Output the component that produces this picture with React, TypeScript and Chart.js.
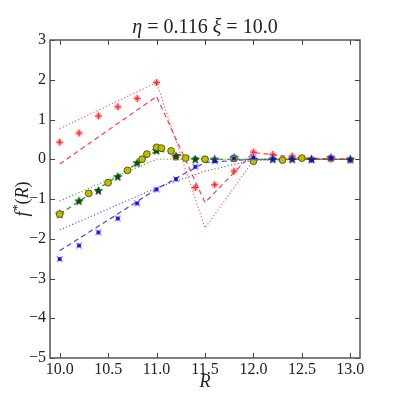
import React, { useEffect, useRef } from "react";
import { Chart, registerables } from "chart.js";

Chart.register(...registerables);

// Model curves (sampled every 0.5 in R)
const lineR = [10.0, 10.5, 11.0, 11.5, 12.0, 12.5, 13.0];
const redDashed = [-0.12, 0.73, 1.58, -1.09, 0.17, 0.03, 0.0];
const redDotted = [0.77, 1.35, 1.93, -1.73, -0.03, 0.0, 0.0];
const greenDashed = [-1.38, -0.58, 0.22, 0.0, 0.0, 0.0, 0.0];
const greenDotted = [-1.05, -0.52, 0.0, 0.0, 0.0, 0.0, 0.0];
const blueDashed = [-2.3, -1.53, -0.75, -0.08, 0.0, 0.0, 0.0];
const blueDotted = [-1.78, -1.25, -0.72, -0.3, -0.02, 0.0, 0.0];

// Sampled points
const pointR = [10.0, 10.2, 10.4, 10.6, 10.8, 11.0, 11.2, 11.4, 11.6, 11.8, 12.0, 12.2, 12.4, 12.6, 12.8, 13.0];
const redPts = [0.43, 0.66, 1.09, 1.32, 1.53, 1.93, 0.05, -0.71, -0.64, -0.3, 0.18, 0.12, 0.08, 0.0, 0.0, -0.02];
const greenPts = [-1.38, -1.05, -0.79, -0.44, -0.09, 0.22, 0.08, 0.0, 0.0, 0.04, 0.0, 0.0, 0.0, 0.0, 0.04, 0.0];
const bluePts = [-2.51, -2.17, -1.84, -1.49, -1.11, -0.76, -0.5, -0.19, -0.05, 0.02, 0.04, 0.0, 0.0, -0.02, 0.03, -0.02];
const yellowR = [10.0, 10.3, 10.5, 10.7, 10.85, 10.9, 11.0, 11.05, 11.15, 11.3, 11.5, 11.8, 12.0, 12.3, 12.5];
const yellowPts = [-1.38, -0.86, -0.59, -0.28, 0.0, 0.13, 0.3, 0.28, 0.21, 0.03, 0.0, 0.02, -0.05, -0.02, 0.03];

// Axes
const xTicks = [10.0, 10.5, 11.0, 11.5, 12.0, 12.5, 13.0];
const yTicks = [-5, -4, -3, -2, -1, 0, 1, 2, 3];
const xRange = [9.9, 13.1];
const yRange = [-5, 3];

const SERIF = "Liberation Serif";

function zip(xs: number[], ys: number[]) {
  return xs.map((x, i) => ({ x, y: ys[i] }));
}

function makeStar(): HTMLCanvasElement {
  const c = document.createElement("canvas");
  c.width = 11;
  c.height = 11;
  const g = c.getContext("2d")!;
  const cx = 5.5, cy = 5.8, ro = 4.4, ri = 1.9;
  g.beginPath();
  for (let i = 0; i < 10; i++) {
    const r = i % 2 === 0 ? ro : ri;
    const a = -Math.PI / 2 + (i * Math.PI) / 5;
    const px = cx + r * Math.cos(a);
    const py = cy + r * Math.sin(a);
    if (i === 0) g.moveTo(px, py);
    else g.lineTo(px, py);
  }
  g.closePath();
  g.fillStyle = "rgb(0,85,0)";
  g.fill();
  g.strokeStyle = "rgba(0,40,0,0.9)";
  g.lineWidth = 0.6;
  g.stroke();
  return c;
}

function makeRed(): HTMLCanvasElement {
  const c = document.createElement("canvas");
  c.width = 9;
  c.height = 9;
  const g = c.getContext("2d")!;
  g.strokeStyle = "rgba(255,30,30,0.95)";
  g.lineWidth = 1.6;
  g.beginPath();
  g.moveTo(4.5, 1);
  g.lineTo(4.5, 8);
  g.moveTo(1, 4.5);
  g.lineTo(8, 4.5);
  g.stroke();
  g.lineWidth = 1;
  g.strokeStyle = "rgba(255,60,60,0.8)";
  g.beginPath();
  g.moveTo(2.3, 2.3);
  g.lineTo(6.7, 6.7);
  g.moveTo(6.7, 2.3);
  g.lineTo(2.3, 6.7);
  g.stroke();
  return c;
}

function makeBlue(): HTMLCanvasElement {
  const c = document.createElement("canvas");
  c.width = 8;
  c.height = 8;
  const g = c.getContext("2d")!;
  g.strokeStyle = "rgba(90,90,255,0.7)";
  g.lineWidth = 1.1;
  g.beginPath();
  g.moveTo(1, 1);
  g.lineTo(7, 7);
  g.moveTo(7, 1);
  g.lineTo(1, 7);
  g.stroke();
  g.fillStyle = "rgb(10,10,220)";
  g.fillRect(2.2, 2.2, 3.6, 3.6);
  return c;
}

const framePlugin = {
  id: "frame",
  afterDraw(chart: any) {
    const ctx = chart.ctx as CanvasRenderingContext2D;
    const a = chart.chartArea;
    const xs = chart.scales.x;
    const ys = chart.scales.y;
    ctx.save();
    ctx.strokeStyle = "#444";
    ctx.lineWidth = 1;
    ctx.beginPath();
    const tl = 5;
    xTicks.forEach((v) => {
      const px = Math.round(xs.getPixelForValue(v)) + 0.5;
      ctx.moveTo(px, a.bottom);
      ctx.lineTo(px, a.bottom - tl);
      ctx.moveTo(px, a.top);
      ctx.lineTo(px, a.top + tl);
    });
    yTicks.forEach((v) => {
      const py = Math.round(ys.getPixelForValue(v)) + 0.5;
      ctx.moveTo(a.left, py);
      ctx.lineTo(a.left + tl, py);
      ctx.moveTo(a.right, py);
      ctx.lineTo(a.right - tl, py);
    });
    ctx.stroke();
    ctx.strokeStyle = "#555";
    ctx.lineWidth = 1.5;
    ctx.strokeRect(a.left, a.top, a.right - a.left, a.bottom - a.top);

    ctx.fillStyle = "#222";
    ctx.textBaseline = "alphabetic";
    const parts: [string, boolean][] = [
      ["η", true],
      [" = 0.116 ", false],
      ["ξ", true],
      [" = 10.0", false],
    ];
    const tsize = 20;
    let total = 0;
    parts.forEach(([t, it]) => {
      ctx.font = `${it ? "italic " : ""}${tsize}px ${SERIF}`;
      total += ctx.measureText(t).width;
    });
    let tx = (a.left + a.right) / 2 - total / 2;
    ctx.textAlign = "left";
    parts.forEach(([t, it]) => {
      ctx.font = `${it ? "italic " : ""}${tsize}px ${SERIF}`;
      ctx.fillText(t, tx, 33);
      tx += ctx.measureText(t).width;
    });

    ctx.font = `italic 18px ${SERIF}`;
    ctx.textAlign = "center";
    ctx.fillText("R", (a.left + a.right) / 2, 387);

    ctx.translate(28, (a.top + a.bottom) / 2);
    ctx.rotate(-Math.PI / 2);
    const yparts: [string, string, number][] = [
      ["f", "italic 18px", 0],
      ["*", "12px", -7],
      ["(", "18px", 0],
      ["R", "italic 18px", 0],
      [")", "18px", 0],
    ];
    let w = 0;
    yparts.forEach(([t, f]) => {
      ctx.font = `${f} ${SERIF}`;
      w += ctx.measureText(t).width + (t === "f" ? 1 : 0);
    });
    let yx = -w / 2;
    ctx.textAlign = "left";
    yparts.forEach(([t, f, dy]) => {
      ctx.font = `${f} ${SERIF}`;
      ctx.fillText(t, yx, dy);
      yx += ctx.measureText(t).width + (t === "f" ? 1 : 0);
    });
    ctx.restore();
  },
};

export default function App() {
  const ref = useRef<HTMLCanvasElement | null>(null);
  useEffect(() => {
    if (!ref.current) return;
    const star = makeStar();
    const blue = makeBlue();
    const red = makeRed();
    const lineDs = (data: number[], color: string, dash: number[], order: number) => ({
      data: zip(lineR, data),
      showLine: true,
      borderColor: color,
      borderWidth: 1.2,
      borderDash: dash,
      pointRadius: 0,
      fill: false,
      tension: 0,
      order,
    });
    const chart = new Chart(ref.current, {
      type: "scatter",
      data: {
        datasets: [
          lineDs(redDotted, "rgba(255,40,40,0.75)", [1.2, 2.2], 10),
          lineDs(redDashed, "rgba(255,30,30,0.85)", [5, 3.5], 11),
          lineDs(greenDotted, "rgba(0,160,0,0.75)", [1.2, 2.2], 12),
          lineDs(greenDashed, "rgba(0,130,0,0.85)", [5, 3.5], 13),
          lineDs(blueDotted, "rgba(40,40,255,0.75)", [1.2, 2.2], 14),
          lineDs(blueDashed, "rgba(30,30,255,0.85)", [5, 3.5], 15),
          { data: zip(pointR, redPts), pointStyle: red, order: 4 },
          { data: zip(pointR, greenPts), pointStyle: star, order: 3 },
          {
            data: zip(yellowR, yellowPts),
            pointStyle: "circle",
            pointRadius: 3.4,
            borderWidth: 1,
            borderColor: "rgba(70,70,0,0.85)",
            backgroundColor: "rgb(190,190,0)",
            order: 2,
          },
          { data: zip(pointR, bluePts), pointStyle: blue, order: 1 },
        ] as any,
      },
      options: {
        animation: false,
        responsive: false,
        events: [],
        font: { family: SERIF },
        layout: { padding: { top: 40, right: 39, left: 0, bottom: 0 } },
        plugins: { legend: { display: false }, tooltip: { enabled: false }, title: { display: false } },
        scales: {
          x: {
            type: "linear",
            min: xRange[0],
            max: xRange[1],
            grid: { display: false, drawTicks: false },
            border: { display: false },
            afterBuildTicks: (s: any) => {
              s.ticks = xTicks.map((v) => ({ value: v }));
            },
            afterFit: (s: any) => {
              s.height = 41;
            },
            ticks: {
              padding: 2,
              color: "#222",
              font: { family: SERIF, size: 16 },
              maxRotation: 0,
              autoSkip: false,
              callback: (v: any) => Number(v).toFixed(1),
            },
          },
          y: {
            type: "linear",
            min: yRange[0],
            max: yRange[1],
            grid: { display: false, drawTicks: false },
            border: { display: false },
            afterBuildTicks: (s: any) => {
              s.ticks = yTicks.map((v) => ({ value: v }));
            },
            afterFit: (s: any) => {
              s.width = 50;
            },
            ticks: {
              padding: 4,
              color: "#222",
              font: { family: SERIF, size: 16 },
              autoSkip: false,
              callback: (v: any) => (Number(v) < 0 ? "\u2212" + Math.abs(Number(v)) : String(v)),
            },
          },
        },
      },
      plugins: [framePlugin],
    } as any);
    return () => chart.destroy();
  }, []);
  return (
    <div style={{ position: "absolute", left: 0, top: 0, width: 399, height: 399, background: "#fff" }}>
      <canvas ref={ref} width={399} height={399} style={{ display: "block" }} />
    </div>
  );
}
